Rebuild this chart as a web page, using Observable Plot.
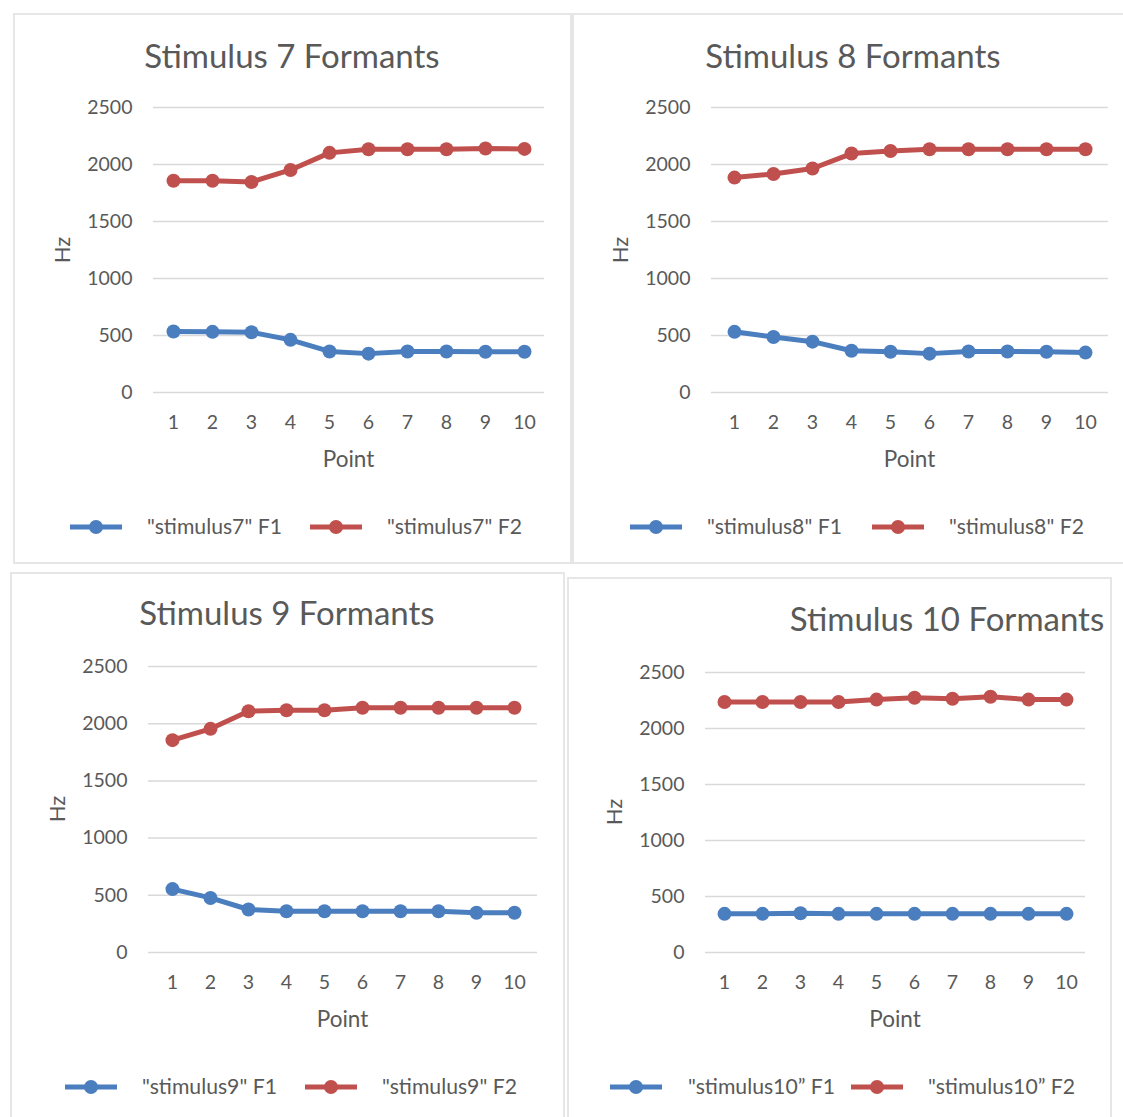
<!DOCTYPE html>
<html>
<head>
<meta charset="utf-8">
<script src="https://cdn.jsdelivr.net/npm/d3@7"></script>
<script src="https://cdn.jsdelivr.net/npm/@observablehq/plot@0.6"></script>
<style>
  html, body { margin: 0; padding: 0; background: #ffffff; }
  #page { position: relative; width: 1123px; height: 1117px; overflow: hidden; font-family: Lato, "Open Sans", sans-serif; color: #595959; }
  .box { position: absolute; box-sizing: border-box; border: 2px solid #e6e6e6; background: #ffffff; }
  .txt { position: absolute; white-space: nowrap; line-height: 1; }
  .plot { position: absolute; }
  .swatch { position: absolute; }
</style>
</head>
<body>
<div id="page"></div>
<script>
// Shared axes
const points = [1, 2, 3, 4, 5, 6, 7, 8, 9, 10];
const yTicks = [0, 500, 1000, 1500, 2000, 2500];

// Formant frequencies (Hz) at each measurement point
const stim7F1 = [535, 532, 529, 462, 360, 341, 360, 360, 357, 357];
const stim7F2 = [1857, 1857, 1847, 1952, 2102, 2134, 2134, 2134, 2140, 2137];
const stim8F1 = [532, 487, 446, 366, 357, 341, 360, 360, 357, 350];
const stim8F2 = [1885, 1917, 1965, 2096, 2118, 2134, 2134, 2134, 2134, 2134];
const stim9F1 = [554, 477, 376, 360, 360, 360, 360, 360, 348, 348];
const stim9F2 = [1856, 1955, 2109, 2118, 2118, 2140, 2140, 2140, 2140, 2140];
const stim10F1 = [345, 345, 351, 345, 345, 345, 345, 345, 345, 345];
const stim10F2 = [2236, 2236, 2236, 2236, 2258, 2274, 2265, 2284, 2258, 2258];

// Text
const titles = ["Stimulus 7 Formants", "Stimulus 8 Formants", "Stimulus 9 Formants", "Stimulus 10 Formants"];
const legendF1 = ['"stimulus7" F1', '"stimulus8" F1', '"stimulus9" F1', '"stimulus10\u201D F1'];
const legendF2 = ['"stimulus7" F2', '"stimulus8" F2', '"stimulus9" F2', '"stimulus10\u201D F2'];
const xLabel = "Point";
const yLabel = "Hz";
const seriesNames = ["F1", "F2"];
const seriesColors = ["#4a7ebf", "#c0504d"];

// Page layout of the four chart panels
const layouts = [
  {box: [13, 13, 572, 564], frame: [153, 544, 107, 392], title: [292, 55], legendY: 527, sw: [70, 310], lab: [147, 387]},
  {box: [572, 13, 1135, 564], frame: [711, 1108, 107, 392], title: [853, 55], legendY: 527, sw: [630, 872], lab: [707, 949]},
  {box: [10, 572, 565, 1135], frame: [148, 537, 666, 952], title: [287, 612], legendY: 1087, sw: [65, 305], lab: [142, 382]},
  {box: [567, 577, 1112, 1135], frame: [705, 1085, 672, 952], title: [947, 618], legendY: 1087, sw: [610, 851], lab: [688, 928]}
];
const seriesF1 = [stim7F1, stim8F1, stim9F1, stim10F1];
const seriesF2 = [stim7F2, stim8F2, stim9F2, stim10F2];

const page = document.getElementById("page");
const FONT = 'Lato, "Open Sans", sans-serif';

function addText(str, x, y, size, opts = {}) {
  const d = document.createElement("div");
  d.className = "txt";
  d.textContent = str;
  d.style.fontSize = size + "px";
  d.style.left = x + "px";
  d.style.top = y + "px";
  const tx = opts.anchor === "start" ? "0" : "-50%";
  d.style.transform = `translate(${tx}, -50%)` + (opts.rotate ? ` rotate(${opts.rotate}deg)` : "");
  page.appendChild(d);
  return d;
}

function addSwatch(x, cy, color) {
  const w = 52, h = 18;
  const ns = "http://www.w3.org/2000/svg";
  const svg = document.createElementNS(ns, "svg");
  svg.setAttribute("class", "swatch");
  svg.setAttribute("width", w);
  svg.setAttribute("height", h);
  svg.style.left = x + "px";
  svg.style.top = (cy - h / 2) + "px";
  const line = document.createElementNS(ns, "line");
  line.setAttribute("x1", 0); line.setAttribute("x2", w);
  line.setAttribute("y1", h / 2); line.setAttribute("y2", h / 2);
  line.setAttribute("stroke", color); line.setAttribute("stroke-width", 5);
  svg.appendChild(line);
  const c = document.createElementNS(ns, "circle");
  c.setAttribute("cx", w / 2); c.setAttribute("cy", h / 2); c.setAttribute("r", 7);
  c.setAttribute("fill", color);
  svg.appendChild(c);
  page.appendChild(svg);
}

layouts.forEach((L, k) => {
  const [bx0, by0, bx1, by1] = L.box;
  const box = document.createElement("div");
  box.className = "box";
  Object.assign(box.style, {left: bx0 + "px", top: by0 + "px", width: (bx1 - bx0) + "px", height: (by1 - by0) + "px"});
  page.appendChild(box);

  const data = points.flatMap((p, i) => [
    {point: p, hz: seriesF1[k][i], series: seriesNames[0]},
    {point: p, hz: seriesF2[k][i], series: seriesNames[1]}
  ]);

  const [fx0, fx1, fy0, fy1] = L.frame;
  const mL = 60, mR = 10, mT = 10, mB = 50;
  const chart = Plot.plot({
    width: fx1 - fx0 + mL + mR,
    height: fy1 - fy0 + mT + mB,
    marginLeft: mL, marginRight: mR, marginTop: mT, marginBottom: mB,
    style: {fontFamily: FONT, fontSize: "19.5px", color: "#595959", background: "transparent", overflow: "visible"},
    x: {type: "point", domain: points, padding: 0.5},
    y: {domain: [0, 2500]},
    color: {domain: seriesNames, range: seriesColors},
    marks: [
      Plot.gridY(yTicks, {stroke: "#d9d9d9", strokeOpacity: 1, strokeWidth: 1.5}),
      Plot.axisY(yTicks, {tickSize: 0, tickPadding: 21, label: null, fill: "#595959", tickFormat: (d) => String(d)}),
      Plot.axisX(points, {tickSize: 0, tickPadding: 23, label: null, fill: "#595959", tickFormat: (d) => String(d)}),
      Plot.line(data, {x: "point", y: "hz", z: "series", stroke: "series", strokeWidth: 5}),
      Plot.dot(data, {x: "point", y: "hz", fill: "series", r: 7})
    ]
  });
  chart.classList.add("plot");
  chart.style.left = (fx0 - mL) + "px";
  chart.style.top = (fy0 - mT) + "px";
  page.appendChild(chart);

  addText(titles[k], L.title[0], L.title[1], 33);
  addText(yLabel, fx0 - 91, (fy0 + fy1) / 2, 22, {rotate: -90});
  addText(xLabel, (fx0 + fx1) / 2, fy1 + 67, 22.5);

  addSwatch(L.sw[0], L.legendY, seriesColors[0]);
  addText(legendF1[k], L.lab[0], L.legendY, 21.2, {anchor: "start"});
  addSwatch(L.sw[1], L.legendY, seriesColors[1]);
  addText(legendF2[k], L.lab[1], L.legendY, 21.2, {anchor: "start"});
});
</script>
</body>
</html>
